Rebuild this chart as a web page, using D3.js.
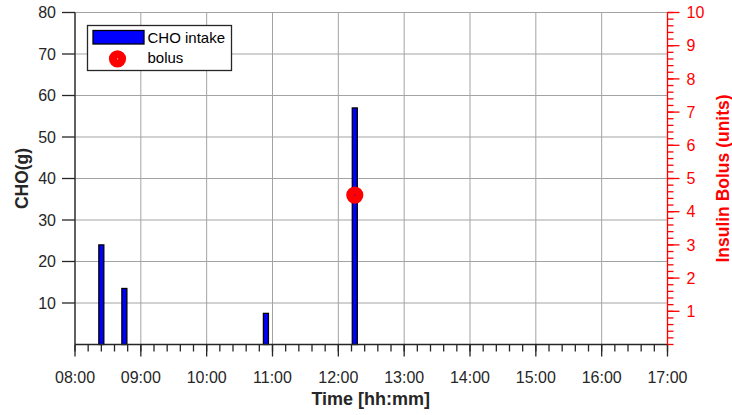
<!DOCTYPE html>
<html>
<head>
<meta charset="utf-8">
<script src="https://cdn.jsdelivr.net/npm/d3@7"></script>
<style>
  html, body { margin: 0; padding: 0; background: #fff; }
  svg { display: block; font-family: "Liberation Sans", Arial, Helvetica, sans-serif; }
</style>
</head>
<body>
<svg id="chart" width="732" height="415"></svg>
<script>
// ---- data ----
const mealTimes = ["08:24", "08:45", "10:54", "12:15"];
const choValues = [24, 13.5, 7.5, 57];
const bolusTimes = ["12:15"];
const bolusUnits = [4.5];
const xTickLabels = ["08:00","09:00","10:00","11:00","12:00","13:00","14:00","15:00","16:00","17:00"];
const leftTicks = [10, 20, 30, 40, 50, 60, 70, 80];
const rightTicks = [1, 2, 3, 4, 5, 6, 7, 8, 9, 10];
const legendLabels = ["CHO intake", "bolus"];

const toH = s => { const [h, m] = s.split(":").map(Number); return h + m / 60; };

const W = 732, H = 415;
const m = { left: 75, right: 64.5, top: 12.5, bottom: 70.5 };
const pw = W - m.left - m.right, ph = H - m.top - m.bottom;

const svg = d3.select("#chart");
const g = svg.append("g").attr("transform", `translate(${m.left},${m.top})`);

const x = d3.scaleLinear().domain([8, 17]).range([0, pw]);
const yL = d3.scaleLinear().domain([0, 80]).range([ph, 0]);
const yR = d3.scaleLinear().domain([0, 10]).range([ph, 0]);

const axisCol = "#262626";
const gridCol = "#a3a3a3";
const red = "#ff0000";

// grid
const hours = xTickLabels.map(toH);
g.append("g").selectAll("line").data(hours).join("line")
  .attr("x1", d => x(d)).attr("x2", d => x(d)).attr("y1", 0).attr("y2", ph)
  .attr("stroke", gridCol).attr("stroke-width", 1);
g.append("g").selectAll("line").data(leftTicks).join("line")
  .attr("x1", 0).attr("x2", pw).attr("y1", d => yL(d)).attr("y2", d => yL(d))
  .attr("stroke", gridCol).attr("stroke-width", 1);

// bars
const bw = 5;
g.append("g").selectAll("rect").data(mealTimes.map((t, i) => ({ t: toH(t), v: choValues[i] }))).join("rect")
  .attr("x", d => x(d.t) - bw / 2).attr("width", bw)
  .attr("y", d => yL(d.v)).attr("height", d => yL(0) - yL(d.v))
  .attr("fill", "#0000ff").attr("stroke", "#000").attr("stroke-width", 1.3);

// bottom axis
const xMinor = d3.range(8, 17.0001, 0.2);
const xAx = g.append("g").attr("transform", `translate(0,${ph})`);
xAx.append("line").attr("x1", 0).attr("x2", pw).attr("stroke", axisCol).attr("stroke-width", 1.3);
xAx.selectAll("line.minor").data(xMinor).join("line").attr("class", "minor")
  .attr("x1", d => x(d)).attr("x2", d => x(d)).attr("y1", 0).attr("y2", 7)
  .attr("stroke", axisCol).attr("stroke-width", 1.3);
xAx.selectAll("line.major").data(hours).join("line").attr("class", "major")
  .attr("x1", d => x(d)).attr("x2", d => x(d)).attr("y1", 0).attr("y2", 12)
  .attr("stroke", axisCol).attr("stroke-width", 1.3);
xAx.selectAll("text").data(xTickLabels).join("text")
  .attr("x", d => x(toH(d))).attr("y", 38)
  .attr("text-anchor", "middle").attr("font-size", 16).attr("fill", axisCol).text(d => d);

// left axis
const lAx = g.append("g");
lAx.append("line").attr("y1", 0).attr("y2", ph).attr("stroke", axisCol).attr("stroke-width", 1.3);
lAx.selectAll("line.t").data(leftTicks).join("line").attr("class", "t")
  .attr("x1", -13).attr("x2", 0).attr("y1", d => yL(d)).attr("y2", d => yL(d))
  .attr("stroke", axisCol).attr("stroke-width", 1.3);
lAx.selectAll("text").data(leftTicks).join("text")
  .attr("x", -19).attr("y", d => yL(d)).attr("dy", "0.36em")
  .attr("text-anchor", "end").attr("font-size", 16).attr("fill", axisCol).text(d => d);

// right axis
const rAx = g.append("g").attr("transform", `translate(${pw},0)`);
const rMinor = d3.range(0, 10.0001, 0.2);
rAx.append("line").attr("y1", 0).attr("y2", ph).attr("stroke", red).attr("stroke-width", 1.3);
rAx.selectAll("line.minor").data(rMinor).join("line").attr("class", "minor")
  .attr("x1", 0).attr("x2", 6).attr("y1", d => yR(d)).attr("y2", d => yR(d))
  .attr("stroke", red).attr("stroke-width", 1.3);
rAx.selectAll("line.major").data(rightTicks).join("line").attr("class", "major")
  .attr("x1", 0).attr("x2", 12).attr("y1", d => yR(d)).attr("y2", d => yR(d))
  .attr("stroke", red).attr("stroke-width", 1.3);
rAx.selectAll("text").data(rightTicks).join("text")
  .attr("x", 19).attr("y", d => yR(d)).attr("dy", "0.36em")
  .attr("text-anchor", "start").attr("font-size", 16).attr("fill", red).text(d => d);

// bolus markers
g.append("g").selectAll("circle").data(bolusTimes.map((t, i) => ({ t: toH(t), v: bolusUnits[i] }))).join("circle")
  .attr("cx", d => x(d.t)).attr("cy", d => yR(d.v)).attr("r", 4.6)
  .attr("fill", "none").attr("stroke", red).attr("stroke-width", 8);

// axis labels
svg.append("text").attr("x", m.left + pw / 2 - 0.5).attr("y", 404.5)
  .attr("text-anchor", "middle").attr("font-size", 18).attr("font-weight", "bold").attr("fill", axisCol)
  .text("Time [hh:mm]");
svg.append("text").attr("transform", `translate(28,${m.top + ph / 2}) rotate(-90)`)
  .attr("text-anchor", "middle").attr("font-size", 17.5).attr("font-weight", "bold").attr("fill", axisCol)
  .text("CHO(g)");
svg.append("text").attr("transform", `translate(729,${m.top + ph / 2}) rotate(-90)`)
  .attr("text-anchor", "middle").attr("font-size", 17.5).attr("font-weight", "bold").attr("fill", red)
  .text("Insulin Bolus (units)");

// legend
const lg = svg.append("g").attr("transform", "translate(87.5,25.5)");
lg.append("rect").attr("width", 144).attr("height", 45).attr("fill", "#fff").attr("stroke", axisCol).attr("stroke-width", 1.3);
lg.append("rect").attr("x", 5.5).attr("y", 5).attr("width", 51).attr("height", 13.5)
  .attr("fill", "#0000ff").attr("stroke", "#000").attr("stroke-width", 1.3);
lg.append("circle").attr("cx", 30).attr("cy", 33.3).attr("r", 4.6)
  .attr("fill", "none").attr("stroke", red).attr("stroke-width", 8);
lg.selectAll("text").data(legendLabels).join("text")
  .attr("x", 60).attr("y", (d, i) => 17.5 + i * 20)
  .attr("font-size", 15).attr("fill", "#000").text(d => d);
</script>
</body>
</html>
